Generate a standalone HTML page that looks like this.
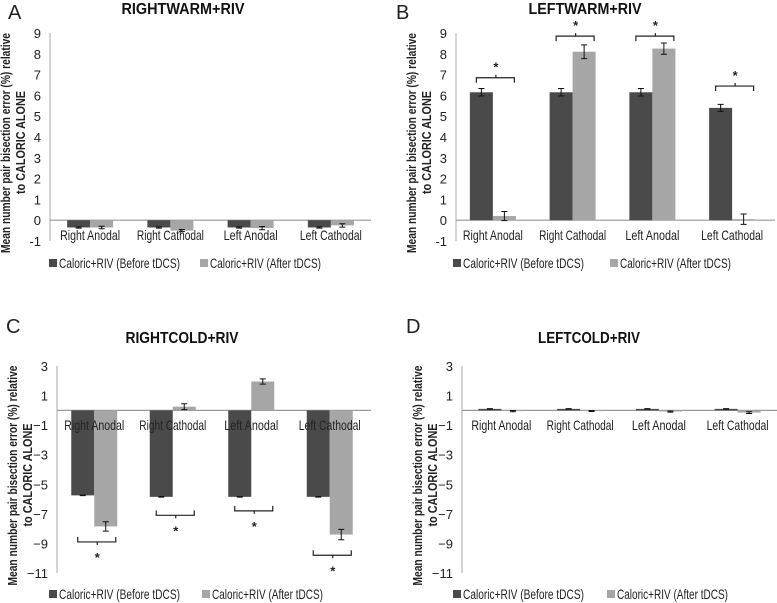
<!DOCTYPE html>
<html><head><meta charset="utf-8"><style>
html,body{margin:0;padding:0;background:#fff;}
svg{display:block;font-family:"Liberation Sans",sans-serif;}
</style></head><body>
<svg id="fig" width="777" height="603" viewBox="0 0 777 603"></svg>
<script>
const categories = ["Right Anodal","Right Cathodal","Left Anodal","Left Cathodal"];
const seriesNames = ["Caloric+RIV (Before tDCS)","Caloric+RIV (After tDCS)"];
const ticksTop = [-1,0,1,2,3,4,5,6,7,8,9];
const ticksBottom = [-11,-9,-7,-5,-3,-1,1,3];
const aBefore = [-0.35,-0.35,-0.35,-0.35];
const aAfter = [-0.35,-0.5,-0.38,-0.25];
const aBeforeErr = [0.03,0.03,0.03,0.03];
const aAfterErr = [0.06,0.05,0.08,0.08];
const bBefore = [6.15,6.15,6.15,5.4];
const bAfter = [0.2,8.1,8.25,0.05];
const bBeforeErr = [0.18,0.18,0.18,0.17];
const bAfterErr = [0.22,0.33,0.27,0.25];
const bSig = [6.85,8.85,8.85,6.45];
const cBefore = [-5.75,-5.85,-5.85,-5.85];
const cAfter = [-7.85,0.25,1.95,-8.4];
const cBeforeErr = [0.02,0.02,0.02,0.02];
const cAfterErr = [0.32,0.2,0.18,0.35];
const cSig = [-8.9,-7.1,-6.8,-9.8];
const dBefore = [0.1,0.1,0.1,0.1];
const dAfter = [-0.05,-0.05,-0.08,-0.15];
const dBeforeErr = [0.02,0.02,0.02,0.02];
const dAfterErr = [0.04,0.03,0.04,0.06];

const NS="http://www.w3.org/2000/svg";
const svg=document.getElementById('fig');
function mk(tag,attrs,parent,text){const e=document.createElementNS(NS,tag);for(const k in attrs)e.setAttribute(k,attrs[k]);if(text!==undefined)e.textContent=text;(parent||svg).appendChild(e);return e;}
function fit(e,w){e.setAttribute('textLength',w);e.setAttribute('lengthAdjust','spacingAndGlyphs');}
const labelWidths=[60,67,54,62];
const legendWidths=[121,111];

function panel(p){
  const g=mk('g',{});
  
  
  const y=v=>p.y0-(v-p.vmin)*(p.y0-p.y1)/(p.vmax-p.vmin);
  const zy=y(0);
  const cw=(p.xEnd-p.ax)/categories.length;
  const bw=23;
  const lt=mk('text',{x:p.letterX,y:p.letterY,'font-size':20,fill:'#222'},g,p.letter);
  
  const tt=mk('text',{x:p.titleX-p.titleW/2,y:p.titleY,'font-size':16,'font-weight':'bold',fill:'#111'},g,p.title);
  
  fit(tt,p.titleW);
  const cy=(p.y0+p.y1)/2+6;
  const t1=mk('text',{transform:`translate(${p.ax-40},${cy+110}) rotate(-90)`,'font-size':13,'font-weight':'bold',fill:'#222'},g,'Mean number pair bisection error (%) relative');
  
  fit(t1,220);
  const t2=mk('text',{transform:`translate(${p.ax-25},${cy+51}) rotate(-90)`,'font-size':13,'font-weight':'bold',fill:'#222'},g,'to CALORIC ALONE');
  
  fit(t2,103);
  const ax=mk('line',{x1:p.ax,x2:p.ax,y1:p.y1,y2:p.y0,stroke:'#aaa','stroke-width':1},g);
  
  p.ticks.forEach(t=>{const e=mk('text',{x:p.ax-9,y:y(t)+5,'font-size':13,'text-anchor':'end',fill:'#222'},g,t<0&&p.minus?'\u2212'+(-t):String(t));
    });
  const base=mk('line',{x1:p.ax,x2:p.xEnd,y1:zy,y2:zy,stroke:'#999','stroke-width':1.2},g);
  
  const series=[[p.before,p.beforeErr,'#4a4a4a'],[p.after,p.afterErr,'#a6a6a6']];
  categories.forEach((c,i)=>{
    const cx=p.ax+cw*(i+0.5)+p.shift;
    series.forEach((s,k)=>{
      const v=s[0][i],e=s[1][i];
      const x=cx-bw+k*bw;
      const r=mk('rect',{x:x,y:Math.min(y(v),zy),width:bw,height:Math.max(0.5,Math.abs(y(v)-zy)),fill:s[2]},g);
      
      const bx=x+bw/2;
      const eb=mk('path',{d:`M${bx},${y(v+e)}V${y(v-e)}M${bx-3},${y(v+e)}H${bx+3}M${bx-3},${y(v-e)}H${bx+3}`,stroke:'#111','stroke-width':1,fill:'none'},g);
      
    });
    const lw=labelWidths[i];
    const lab=mk('text',{x:cx-lw/2,y:p.labelY,'font-size':14,fill:'#222'},g,c);
    
    fit(lab,lw);
    if(p.sig){
      const sv=p.sig[i],sy=y(sv),up=sv>0;
      const d=up?5:-5;
      const x1=cx-bw/2,x2=cx+bw/2+10;
      const br=mk('path',{d:`M${x1-5},${sy+d}V${sy}H${x2}V${sy+d}M${(x1+x2)/2-2},${sy}v${-d*0.6}`,stroke:'#222','stroke-width':1.2,fill:'none'},g);
      
      const st=mk('text',{x:(x1+x2)/2-2,y:up?sy-6:sy+20,'font-size':13,'font-weight':'bold','text-anchor':'middle',fill:'#222'},g,'*');
      
    }
  });
  seriesNames.forEach((n,k)=>{
    const lx=p.legX+k*p.legGap;
    const sw=mk('rect',{x:lx,y:p.legY-9,width:8,height:8,fill:k?'#a6a6a6':'#4a4a4a'},g);
    
    const t=mk('text',{x:lx+10,y:p.legY,'font-size':14,fill:'#222'},g,n);
    
    fit(t,legendWidths[k]);
  });
}
panel({id:'a',letter:'A',letterX:8,title:'RIGHTWARM+RIV',titleW:123,titleX:183,titleY:14,letterY:19,ax:50,xEnd:371,shift:0,y0:241,y1:33,vmin:-1,vmax:9,ticks:ticksTop,
  before:aBefore,after:aAfter,beforeErr:aBeforeErr,afterErr:aAfterErr,labelY:240,legX:49,legGap:151,legY:268});
panel({id:'b',letter:'B',letterX:396,title:'LEFTWARM+RIV',titleW:113,titleX:585,titleY:14,letterY:19,ax:456,xEnd:775,shift:-3,y0:241,y1:33,vmin:-1,vmax:9,ticks:ticksTop,
  before:bBefore,after:bAfter,beforeErr:bBeforeErr,afterErr:bAfterErr,sig:bSig,labelY:240,legX:453,legGap:157,legY:268});
panel({id:'c',letter:'C',letterX:6,title:'RIGHTCOLD+RIV',titleW:113,titleX:182,titleY:343,letterY:333,ax:57,xEnd:371,shift:-2,y0:573,y1:366,vmin:-11,vmax:3,ticks:ticksBottom,minus:true,
  before:cBefore,after:cAfter,beforeErr:cBeforeErr,afterErr:cAfterErr,sig:cSig,labelY:430,legX:49,legGap:153,legY:599});
panel({id:'d',letter:'D',letterX:406,title:'LEFTCOLD+RIV',titleW:102,titleX:589,titleY:343,letterY:333,ax:462,xEnd:777,shift:0,y0:573,y1:366,vmin:-11,vmax:3,ticks:ticksBottom,minus:true,
  before:dBefore,after:dAfter,beforeErr:dBeforeErr,afterErr:dAfterErr,labelY:430,legX:453,legGap:154,legY:599});
</script>
</body></html>
